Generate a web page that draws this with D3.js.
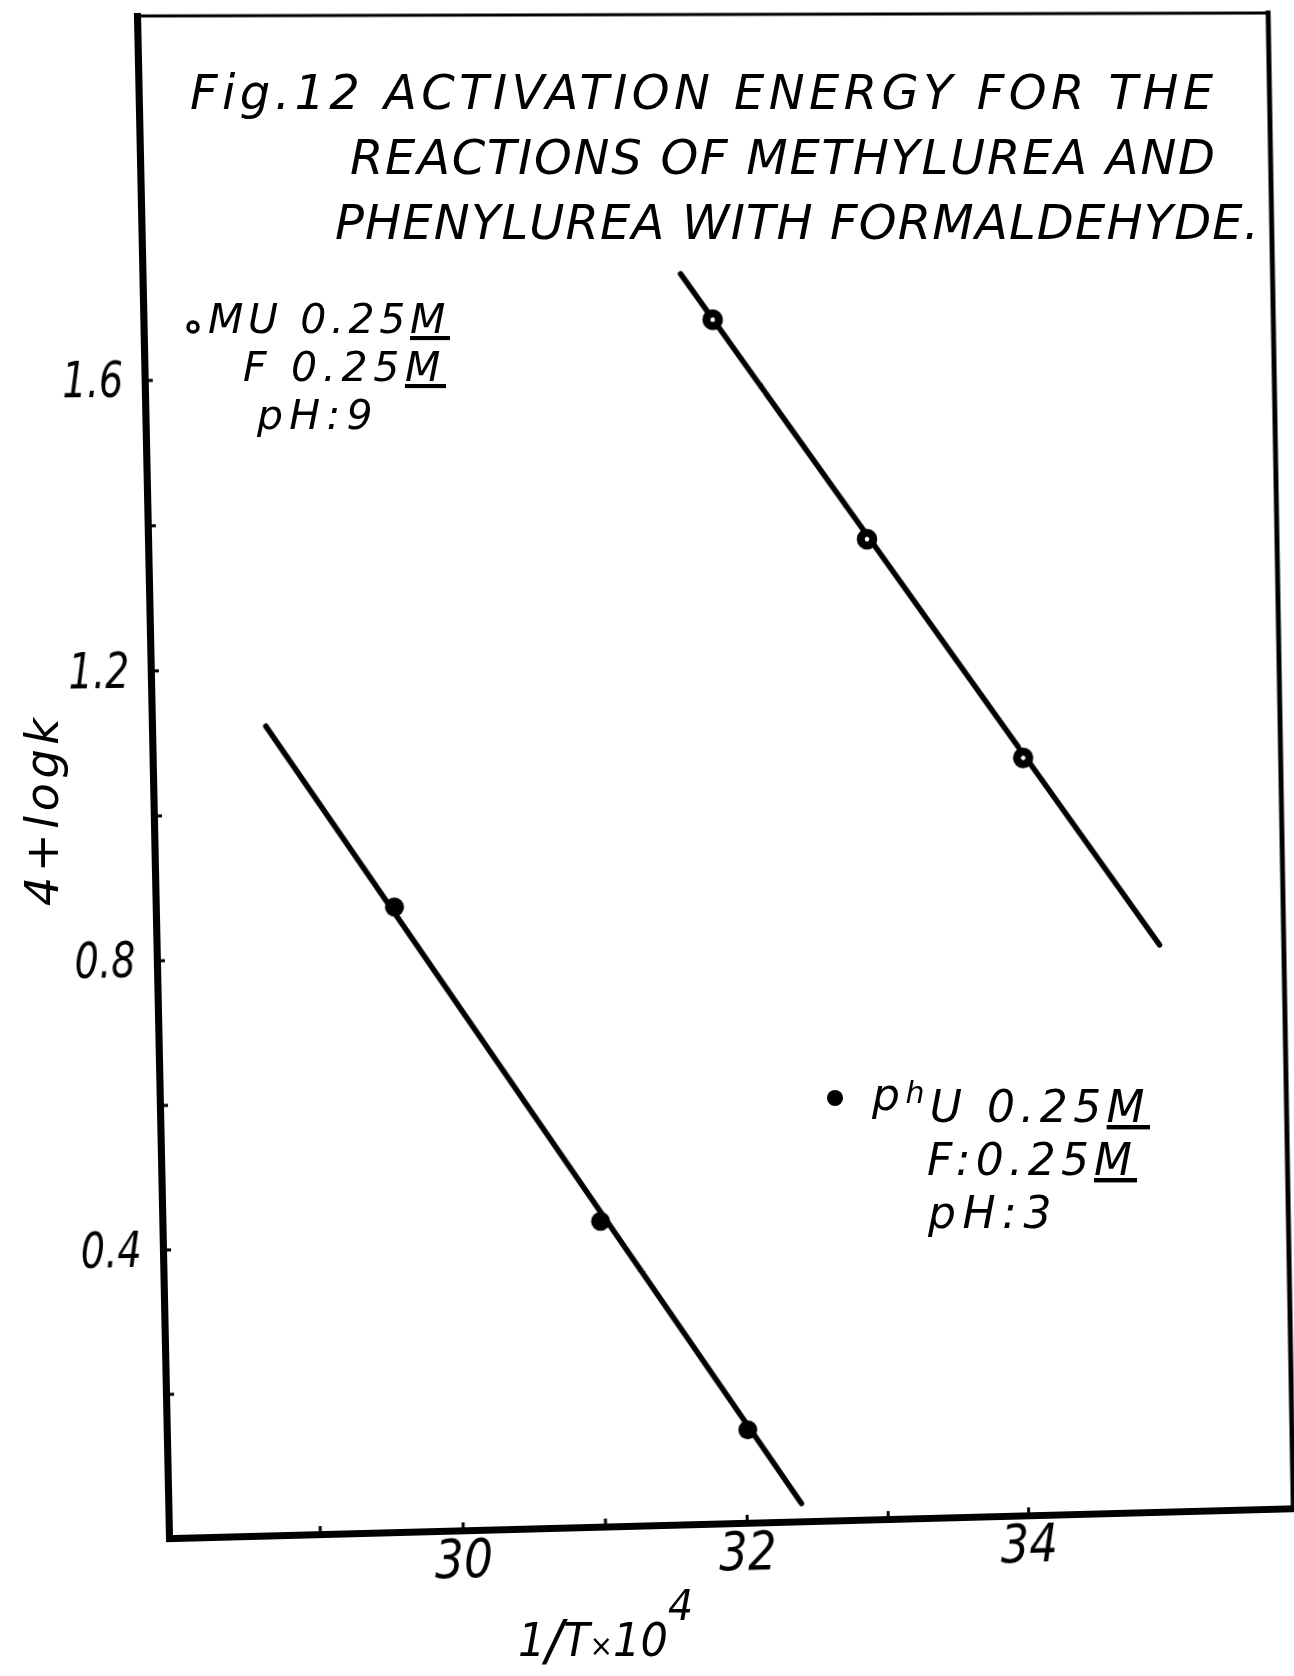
<!DOCTYPE html>
<html>
<head>
<meta charset="utf-8">
<script src="https://cdn.jsdelivr.net/npm/d3@7"></script>
<style>
  html, body { margin: 0; padding: 0; background: #fff; }
  body { width: 1294px; height: 1676px; position: relative; overflow: hidden; }
  svg { position: absolute; left: 0; top: 0; display: block; }
  text { font-family: "DejaVu Sans", "Liberation Sans", sans-serif; font-style: italic; fill: #000; }
</style>
</head>
<body>
<svg id="plot" width="1294" height="1676"></svg>
<svg id="notes" width="1294" height="1676"></svg>
<script>
// Arrhenius plot: 4 + log k against 1/T x 10^4

// methylurea (MU 0.25 M, F 0.25 M, pH 9) - open circles
const muX = [31.92, 32.98, 34.06];
const muY = [1.677, 1.370, 1.062];
// phenylurea (phU 0.25 M, F 0.25 M, pH 3) - filled circles
const phuX = [29.61, 31.01, 32.02];
const phuY = [0.868, 0.426, 0.130];

// end points of the straight lines drawn through each series
const muFitX = [31.70, 35.01];
const muFitY = [1.741, 0.797];
const phuFitX = [28.74, 32.39];
const phuFitY = [1.121, 0.025];

// axes
const xFrame = [27.95, 35.9];
const yFrame = [0, 2.1];
const xTicks = [29, 30, 31, 32, 33, 34];
const xTickLabels = ["", "30", "", "32", "", "34"];
const yTicks = [0.2, 0.4, 0.6, 0.8, 1.0, 1.2, 1.4, 1.6];
const yTickLabels = ["", "0.4", "", "0.8", "", "1.2", "", "1.6"];

const titleLines = [
  "Fig.12 ACTIVATION ENERGY FOR THE",
  "REACTIONS OF METHYLUREA AND",
  "PHENYLUREA WITH FORMALDEHYDE."
];

// ---------------------------------------------------------------
// plot frame (drawing units) and where its corners sit on the page
const L = 150, R = 1280, T = 16, B = 1526;
const pageCorners = [[137, 16], [1268, 13], [1293, 1508], [169, 1538]];

const x = d3.scaleLinear().domain(xFrame).range([L, R]);
const y = d3.scaleLinear().domain(yFrame).range([B, T]);

const plot = d3.select("#plot");

// frame: top and right edges
plot.append("line")
  .attr("x1", x(xFrame[0])).attr("x2", x(xFrame[1]))
  .attr("y1", y(yFrame[1])).attr("y2", y(yFrame[1]))
  .attr("stroke", "#000").attr("stroke-width", 3).attr("stroke-linecap", "square");
plot.append("line")
  .attr("x1", x(xFrame[1])).attr("x2", x(xFrame[1]))
  .attr("y1", y(yFrame[1])).attr("y2", y(yFrame[0]))
  .attr("stroke", "#000").attr("stroke-width", 5).attr("stroke-linecap", "square");

// bottom axis
const gx = plot.append("g")
  .attr("transform", `translate(0,${B})`)
  .call(d3.axisBottom(x)
    .tickValues(xTicks)
    .tickFormat((d, i) => xTickLabels[i])
    .tickSizeInner(-8).tickSizeOuter(0).tickPadding(9));
gx.select(".domain").attr("stroke-width", 7).attr("stroke-linecap", "square");
gx.selectAll(".tick line").attr("stroke-width", 3);
gx.selectAll(".tick text")
  .style("font-size", "54px")
  .each(function () {
    if (this.textContent) d3.select(this).attr("textLength", 58).attr("lengthAdjust", "spacingAndGlyphs");
  });

// left axis
const gy = plot.append("g")
  .attr("transform", `translate(${L},0)`)
  .call(d3.axisLeft(y)
    .tickValues(yTicks)
    .tickFormat((d, i) => yTickLabels[i])
    .tickSizeInner(-8).tickSizeOuter(0).tickPadding(21));
gy.select(".domain").attr("stroke-width", 7).attr("stroke-linecap", "square");
gy.selectAll(".tick line").attr("stroke-width", 3);
gy.selectAll(".tick text")
  .style("font-size", "50px")
  .each(function () {
    if (this.textContent) d3.select(this).attr("textLength", 60).attr("lengthAdjust", "spacingAndGlyphs");
  });

// straight lines through the points
const line = d3.line();
const fitPts = (xs, ys) => xs.map((v, i) => [x(v), y(ys[i])]);
[[muFitX, muFitY], [phuFitX, phuFitY]].forEach(([xs, ys]) => {
  plot.append("path")
    .attr("d", line(fitPts(xs, ys)))
    .attr("fill", "none").attr("stroke", "#000")
    .attr("stroke-width", 5.5).attr("stroke-linecap", "round");
});

// data points
plot.selectAll("circle.mu")
  .data(muX.map((v, i) => [v, muY[i]]))
  .join("circle").attr("class", "mu")
  .attr("cx", d => x(d[0])).attr("cy", d => y(d[1]))
  .attr("r", 6.3).attr("fill", "#fff").attr("stroke", "#000").attr("stroke-width", 8);
plot.selectAll("circle.phu")
  .data(phuX.map((v, i) => [v, phuY[i]]))
  .join("circle").attr("class", "phu")
  .attr("cx", d => x(d[0])).attr("cy", d => y(d[1]))
  .attr("r", 9.5).attr("fill", "#000");

// perspective of the sheet: map the frame rectangle onto its page corners
function quadMatrix(l, t, w, h, q) {
  const [[x0, y0], [x1, y1], [x2, y2], [x3, y3]] = q;
  const dx1 = x1 - x2, dx2 = x3 - x2, dx3 = x0 - x1 + x2 - x3;
  const dy1 = y1 - y2, dy2 = y3 - y2, dy3 = y0 - y1 + y2 - y3;
  const den = dx1 * dy2 - dx2 * dy1;
  const g = (dx3 * dy2 - dx2 * dy3) / den;
  const hh = (dx1 * dy3 - dx3 * dy1) / den;
  const a = x1 - x0 + g * x1, b = x3 - x0 + hh * x3, c = x0;
  const d = y1 - y0 + g * y1, e = y3 - y0 + hh * y3, f = y0;
  const A1 = a / w, A2 = b / h, A4 = c - a * l / w - b * t / h;
  const B1 = d / w, B2 = e / h, B4 = f - d * l / w - e * t / h;
  const D1 = g / w, D2 = hh / h, D4 = 1 - g * l / w - hh * t / h;
  return `matrix3d(${A1},${B1},0,${D1},${A2},${B2},0,${D2},0,0,1,0,${A4},${B4},0,${D4})`;
}
plot.style("transform-origin", "0 0")
    .style("transform", quadMatrix(L, T, R - L, B - T, pageCorners));

// ---------------------------------------------------------------
// lettering: title, keys and axis names
const notes = d3.select("#notes");

const titlePos = [[190, 109, 1023], [350, 174, 865], [335, 239, 924]];
titleLines.forEach((s, i) => {
  notes.append("text")
    .attr("x", titlePos[i][0]).attr("y", titlePos[i][1])
    .attr("textLength", titlePos[i][2]).attr("lengthAdjust", "spacing")
    .style("font-size", "48px")
    .text(s);
});

// a key block: one text element, one row per line, each row spaced out to its width
function keyBlock(rows, size) {
  const t = notes.append("text").style("font-size", size + "px");
  rows.forEach(row => {
    const spans = row.segs.map((s, k) => {
      const sp = t.append("tspan").text(s.text);
      if (k === 0) sp.attr("x", row.x).attr("y", row.y + (s.dy || 0));
      else if (s.dy) sp.attr("dy", s.dy);
      if (s.size) sp.style("font-size", s.size + "px");
      if (s.u) sp.style("text-decoration", "underline");
      return sp;
    });
    const natural = d3.sum(spans, sp => sp.node().getComputedTextLength());
    const chars = d3.sum(row.segs, s => s.text.length);
    const ls = (row.len - natural) / chars;
    spans.forEach(sp => sp.style("letter-spacing", ls + "px"));
  });
}

// MU key
notes.append("circle").attr("cx", 193).attr("cy", 327).attr("r", 5)
  .attr("fill", "#fff").attr("stroke", "#000").attr("stroke-width", 3.5);
keyBlock([
  { x: 208, y: 333, len: 242, segs: [{ text: "MU 0.25" }, { text: "M", u: true }] },
  { x: 243, y: 381, len: 203, segs: [{ text: "F 0.25" }, { text: "M", u: true }] },
  { x: 257, y: 429, len: 122, segs: [{ text: "pH:9" }] }
], 41);

// phU key
notes.append("circle").attr("cx", 835).attr("cy", 1098).attr("r", 8).attr("fill", "#000");
keyBlock([
  { x: 872, y: 1122, len: 278, segs: [
      { text: "p", dy: -12 }, { text: "h", dy: -7, size: 30 },
      { text: "U 0.25", dy: 19 }, { text: "M", u: true }] },
  { x: 927, y: 1175, len: 210, segs: [{ text: "F:0.25" }, { text: "M", u: true }] },
  { x: 928, y: 1228, len: 130, segs: [{ text: "pH:3" }] }
], 44);

// y axis name
notes.append("text")
  .attr("transform", "translate(58,812) rotate(-90)")
  .attr("text-anchor", "middle")
  .attr("textLength", 188).attr("lengthAdjust", "spacing")
  .style("font-size", "46px")
  .text("4+logk");

// x axis name, 1/T x 10^4
{
  const t = notes.append("text")
    .attr("x", 518).attr("y", 1656)
    .attr("textLength", 175).attr("lengthAdjust", "spacingAndGlyphs")
    .style("font-size", "46px");
  t.append("tspan").text("1");
  t.append("tspan").attr("dy", 3).style("font-size", "56px").text("/");
  t.append("tspan").attr("dy", -3).text("T");
  t.append("tspan").style("font-size", "30px").text("×");
  t.append("tspan").text("10");
  t.append("tspan").attr("dy", -36).style("font-size", "42px").text("4");
}
</script>
</body>
</html>
